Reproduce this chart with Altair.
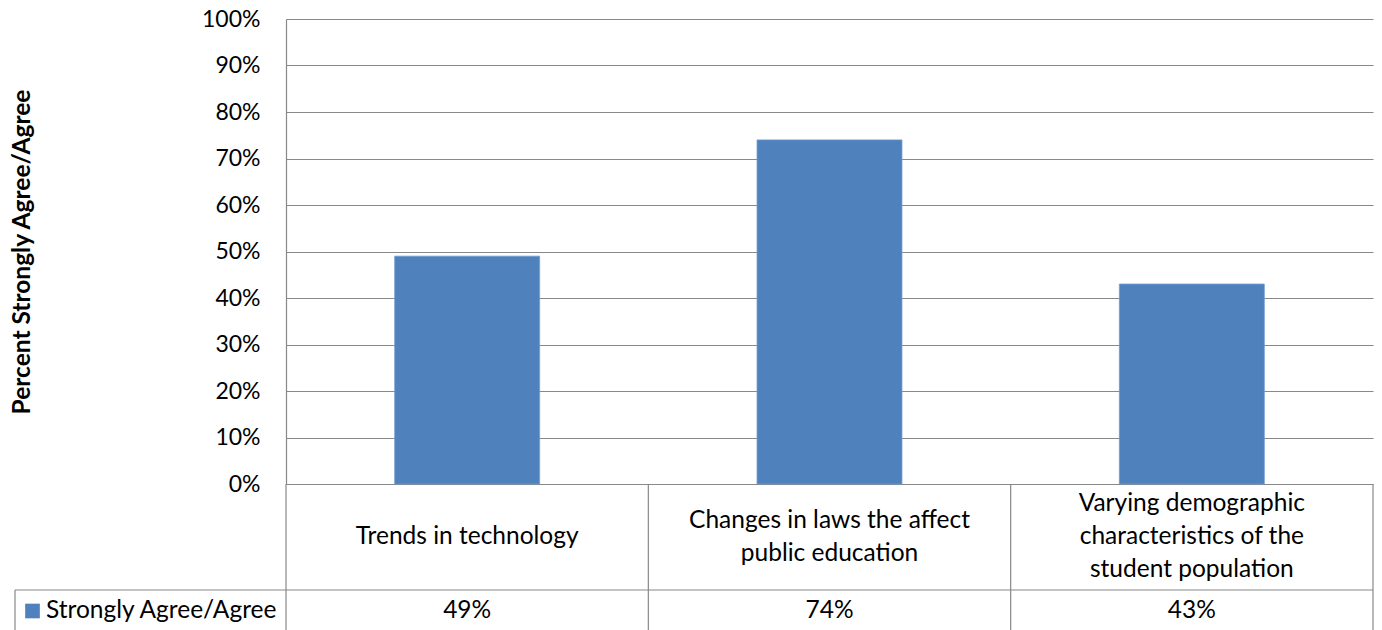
import altair as alt
import pandas as pd

# ---- data ----
categories = [
    "Trends in technology",
    "Changes in laws the affect public education",
    "Varying demographic characteristics of the student population",
]
category_labels = [
    "Trends in technology",
    "Changes in laws the affect\npublic education",
    "Varying demographic\ncharacteristics of the\nstudent population",
]
values = [0.49, 0.74, 0.43]
series_name = "Strongly Agree/Agree"
y_ticks = [0.0, 0.1, 0.2, 0.3, 0.4, 0.5, 0.6, 0.7, 0.8, 0.9, 1.0]
y_title = "Percent Strongly Agree/Agree"

# ---- styling ----
FONT = "Lato"
BAR = "#4F81BD"
LINE = "#888888"
W, H = 1087, 465
ROW1 = 106          # height of the category row in the data table
ROW2 = 44           # height of the value row (runs past the picture edge)
LH = 33             # line height of the wrapped category labels
TFS = 24.5          # table font size

df = pd.DataFrame({"category": categories, "value": values})
legend_df = pd.DataFrame({"series": [series_name]})

line_rows = []
for cat, lab in zip(categories, category_labels):
    parts = lab.split("\n")
    for i, t in enumerate(parts):
        line_rows.append({"category": cat, "line": t, "idx": i, "n": len(parts)})
lines_df = pd.DataFrame(line_rows)

xscale = alt.Scale(paddingInner=0, paddingOuter=0)
yscale = alt.Scale(domain=[0, 1])
xenc = alt.X("category:N", sort=categories, scale=xscale, axis=None)
yaxis = alt.Axis(values=y_ticks, format=".0%", grid=True,
                 gridColor=LINE, gridWidth=1.2, domainColor=LINE,
                 domainWidth=1.2, ticks=False, labelPadding=26,
                 labelFont=FONT, labelFontSize=23, labelColor="#000000",
                 titleFont=FONT, titleFontSize=24.5,
                 titleFontWeight="bold", titleColor="#000000",
                 titlePadding=167)

bars = alt.Chart(df).mark_bar(width=alt.RelativeBandSize(0.4), color=BAR,
                              stroke="#6F9AD0", strokeWidth=0.8).encode(
    x=xenc,
    y=alt.Y("value:Q", scale=yscale, axis=yaxis, title=y_title),
)

vlines = alt.Chart(df).mark_rule(color=LINE, strokeWidth=1.2).encode(
    x=alt.X("category:N", sort=categories, bandPosition=0, scale=xscale, axis=None),
    y=alt.value(H), y2=alt.value(H + ROW1 + ROW2),
)
vright = alt.Chart(df).transform_filter(
    alt.datum.category == categories[-1]
).mark_rule(color=LINE, strokeWidth=1.2).encode(
    x=alt.X("category:N", sort=categories, bandPosition=1, scale=xscale, axis=None),
    y=alt.value(H), y2=alt.value(H + ROW1 + ROW2),
)

LEG_LEFT = -271
hline = alt.Chart(legend_df).mark_rule(color=LINE, strokeWidth=1.2).encode(
    x=alt.value(LEG_LEFT), x2=alt.value(W), y=alt.value(H + ROW1),
)
legline = alt.Chart(legend_df).mark_rule(color=LINE, strokeWidth=1.2).encode(
    x=alt.value(LEG_LEFT), y=alt.value(H + ROW1), y2=alt.value(H + ROW1 + ROW2),
)

cat_text = alt.Chart(lines_df).transform_calculate(
    ypos=f"-({ROW1 / 2} + (datum.idx - (datum.n - 1) / 2) * {LH}) / {H}"
).mark_text(font=FONT, fontSize=TFS, baseline="middle", align="center",
            color="#000000").encode(
    x=xenc,
    y=alt.Y("ypos:Q", scale=yscale, axis=yaxis, title=y_title),
    text="line:N",
)
val_text = alt.Chart(df).mark_text(font=FONT, fontSize=TFS, baseline="middle",
                                   align="center", color="#000000").encode(
    x=xenc, y=alt.value(H + ROW1 + 21), text=alt.Text("value:Q", format=".0%"),
)
leg_sq = alt.Chart(legend_df).mark_square(size=215, color=BAR, opacity=1).encode(
    x=alt.value(LEG_LEFT + 17.5), y=alt.value(H + ROW1 + 21),
)
leg_text = alt.Chart(legend_df).mark_text(font=FONT, fontSize=TFS, baseline="middle",
                                          align="left", color="#000000").encode(
    x=alt.value(LEG_LEFT + 31), y=alt.value(H + ROW1 + 21), text="series:N",
)

chart = alt.layer(bars, vlines, vright, hline, legline, cat_text, val_text,
                  leg_sq, leg_text).properties(
    width=W, height=H,
    autosize=alt.AutoSizeParams(type="none"),
    padding={"left": 278, "top": 11, "right": 1, "bottom": 146},
).configure_view(stroke=None)

chart.save("out.html", embed_options={"renderer": "svg", "actions": False})
